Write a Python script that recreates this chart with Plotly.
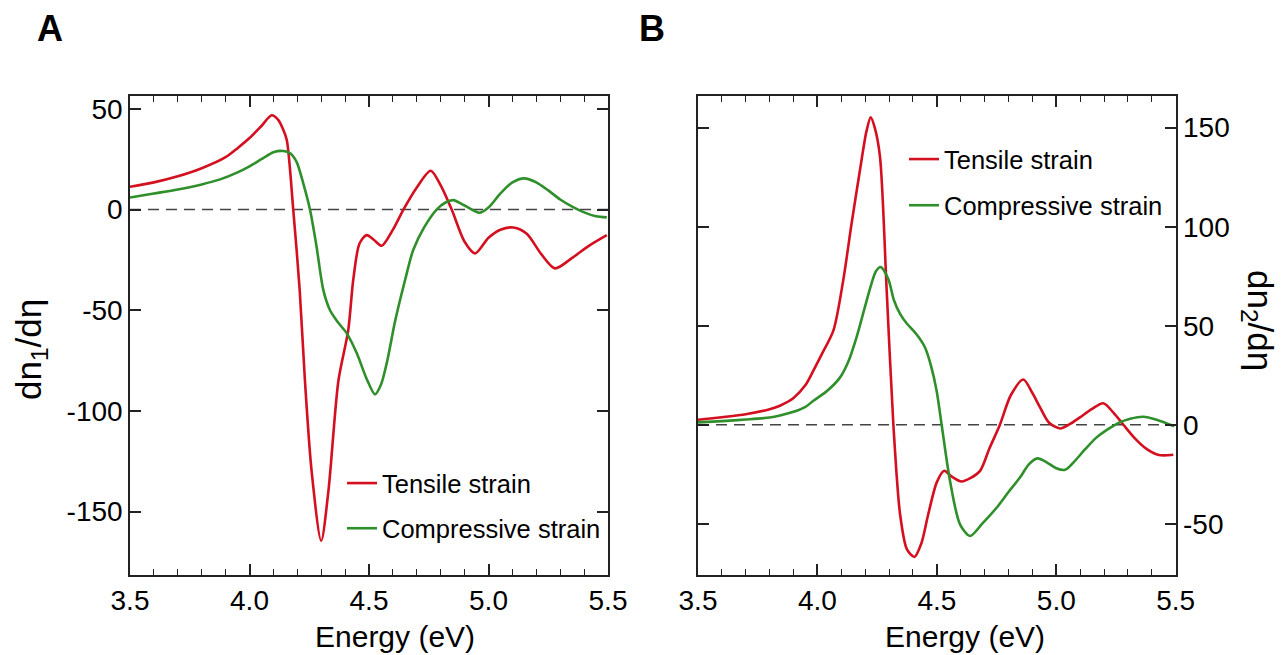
import plotly.graph_objects as go

# ---- Panel A: dn1/dη ----
e_tens_A = [3.50, 3.60, 3.70, 3.80, 3.90, 3.95, 4.00, 4.05, 4.093, 4.12, 4.14, 4.156, 4.183, 4.21, 4.232, 4.26, 4.30,
            4.33, 4.372, 4.413, 4.434, 4.46, 4.49, 4.52, 4.553, 4.60, 4.644, 4.70, 4.758, 4.80, 4.846, 4.90,
            4.944, 5.00, 5.05, 5.104, 5.16, 5.22, 5.278, 5.35, 5.42, 5.495]
tens_A = [11.3, 13.5, 16.5, 20.5, 26, 30.5, 35.5, 41.5, 46.8, 44.5, 40, 34.5, 0, -40, -85, -130, -164.5,
          -140, -85, -60, -35, -17, -12.7, -15, -18, -10, 0, 11, 19.3, 12, 0, -16,
          -21.8, -14, -10, -8.9, -12, -22, -29.2, -24, -18, -12.7]

e_comp_A = [3.50, 3.60, 3.70, 3.80, 3.877, 3.95, 4.00, 4.05, 4.10, 4.142, 4.17, 4.197, 4.225, 4.253, 4.28,
            4.309, 4.337, 4.37, 4.407, 4.449, 4.49, 4.525, 4.55, 4.574, 4.61, 4.651, 4.685, 4.73, 4.783,
            4.82, 4.853, 4.90, 4.962, 5.00, 5.05, 5.10, 5.149, 5.20, 5.25, 5.30, 5.35, 5.411, 5.45, 5.495]
comp_A = [6, 8, 10, 12.5, 15, 18.5, 21.5, 25, 28.5, 29.1, 28, 23.7, 13, 0, -18,
          -40, -50, -56, -61.5, -71.4, -84, -91.8, -87, -76.4, -55, -35, -20.1, -9, 0,
          3.5, 4.7, 2, -1.6, 1, 8, 13.5, 15.5, 13.5, 9.5, 5, 1.5, -1.9, -3.3, -3.9]

# ---- Panel B: dn2/dη ----
e_tens_B = [3.50, 3.60, 3.70, 3.80, 3.843, 3.90, 3.95, 3.983, 4.02, 4.067, 4.108, 4.143, 4.18, 4.205, 4.223, 4.24, 4.262,
            4.29, 4.318, 4.346, 4.375, 4.406, 4.435, 4.464, 4.50, 4.531, 4.56, 4.604, 4.64, 4.681, 4.72,
            4.764, 4.81, 4.862, 4.90, 4.932, 4.97, 5.016, 5.06, 5.099, 5.15, 5.197, 5.24, 5.281, 5.33,
            5.379, 5.43, 5.49]
tens_B = [2.5, 3.8, 5.3, 7.8, 9.6, 13.5, 20, 27.3, 36, 47.6, 72.9, 101.6, 130, 148, 155.2, 150, 135.3,
          67.8, 0, -45.2, -63, -66.8, -60, -45.2, -29, -23.3, -26, -28.7, -27, -23.3, -12,
          0, 15, 22.8, 16, 8.8, 1, -1.9, 0.5, 3.7, 8, 10.8, 6, 0, -7,
          -12.3, -15.3, -15.2]

e_comp_B = [3.50, 3.60, 3.70, 3.80, 3.843, 3.90, 3.95, 3.983, 4.04, 4.095, 4.13, 4.164, 4.20, 4.227, 4.245, 4.265,
            4.297, 4.32, 4.346, 4.375, 4.401, 4.425, 4.45, 4.475, 4.499, 4.52, 4.555, 4.597, 4.639, 4.69,
            4.751, 4.80, 4.848, 4.885, 4.921, 4.96, 5.00, 5.037, 5.08, 5.12, 5.169, 5.22, 5.266, 5.31,
            5.364, 5.42, 5.494]
comp_B = [1.2, 1.8, 2.6, 3.6, 4.6, 6.5, 9, 12.1, 17, 23.9, 32, 44.2, 60, 71.5, 77.5, 79.6,
          73.5, 63, 56, 51, 47.6, 44, 39.1, 30, 17.2, 0, -28.3, -50.3, -56.2, -50,
          -41.8, -34, -26.7, -20, -17, -19, -22, -22.8, -18, -12.5, -6.4, -2, 1.2, 3,
          4, 2.5, -0.8]

x_ticks = [3.5, 4.0, 4.5, 5.0, 5.5]
x_ticktext = ["3.5", "4.0", "4.5", "5.0", "5.5"]
yA_ticks = [50, 0, -50, -100, -150]
yA_ticktext = ["50", "0", "-50", "-100", "-150"]
yB_ticks = [150, 100, 50, 0, -50]
yB_ticktext = ["150", "100", "50", "0", "-50"]

RED = "#d40f1f"
GREEN = "#2f8f2a"
FONT = "Liberation Sans, Arial, sans-serif"
W, H = 1283, 655
OFF = 8  # page body margin


def px(xp):
    return (xp - OFF) / W


def py(yp):
    return 1 - (yp - OFF) / H


fig = go.Figure()
fig.add_trace(go.Scatter(x=e_tens_A, y=tens_A, mode="lines", name="Tensile strain",
                         line=dict(color=RED, width=2.6, shape="spline", smoothing=0.8),
                         xaxis="x", yaxis="y", legend="legend", legendgroup="a1"))
fig.add_trace(go.Scatter(x=e_comp_A, y=comp_A, mode="lines", name="Compressive strain",
                         line=dict(color=GREEN, width=2.6, shape="spline", smoothing=0.8),
                         xaxis="x", yaxis="y", legend="legend", legendgroup="a2"))
fig.add_trace(go.Scatter(x=e_tens_B, y=tens_B, mode="lines", name="Tensile strain",
                         line=dict(color=RED, width=2.6, shape="spline", smoothing=0.8),
                         xaxis="x2", yaxis="y2", legend="legend2", legendgroup="b1"))
fig.add_trace(go.Scatter(x=e_comp_B, y=comp_B, mode="lines", name="Compressive strain",
                         line=dict(color=GREEN, width=2.6, shape="spline", smoothing=0.8),
                         xaxis="x2", yaxis="y2", legend="legend2", legendgroup="b2"))

ydom = [py(575), py(96)]
axis_common = dict(showline=True, linecolor="#222", linewidth=1.5, mirror="ticks", automargin=False,
                   ticks="inside", tickcolor="#222", tickwidth=1.5, showgrid=False, zeroline=False,
                   tickfont=dict(family=FONT, size=28, color="#000"))
xcommon = dict(axis_common, range=[3.5, 5.5], tickvals=x_ticks, ticktext=x_ticktext, ticklen=11,
               minor=dict(ticks="inside", dtick=0.1, tick0=3.5, ticklen=6, tickcolor="#222", tickwidth=1.2))

fig.update_layout(
    width=W, height=H, margin=dict(l=0, r=0, t=0, b=0, autoexpand=False),
    paper_bgcolor="white", plot_bgcolor="white", showlegend=True,
    font=dict(family=FONT, color="#000"),
    xaxis=dict(xcommon, domain=[px(130), px(608)], anchor="y"),
    yaxis=dict(axis_common, domain=ydom, range=[-181.5, 56.4], tickvals=yA_ticks,
               ticktext=yA_ticktext, ticklen=11, anchor="x"),
    xaxis2=dict(xcommon, domain=[px(698), px(1175.7)], anchor="y2"),
    yaxis2=dict(axis_common, domain=ydom, range=[-75.9, 166], tickvals=yB_ticks,
                ticktext=yB_ticktext, ticklen=11, anchor="x2", side="right"),
    legend=dict(x=px(342), y=py(460), xanchor="left", yanchor="top", bgcolor="rgba(0,0,0,0)",
                font=dict(family=FONT, size=25.5, color="#000"), traceorder="grouped", tracegroupgap=9),
    legend2=dict(x=px(904), y=py(136), xanchor="left", yanchor="top", bgcolor="rgba(0,0,0,0)",
                 font=dict(family=FONT, size=25.5, color="#000"), traceorder="grouped", tracegroupgap=10),
)

# dashed zero lines
for xr, yr in (("x", "y"), ("x2", "y2")):
    fig.add_shape(type="line", xref=xr, yref=yr, x0=3.5, x1=5.5, y0=0, y1=0,
                  line=dict(color="#444", width=1.4, dash="11px,7px"), layer="below")

annos = [
    dict(text="<b>A</b>", x=px(50), y=py(28), font=dict(size=36)),
    dict(text="<b>B</b>", x=px(652), y=py(28), font=dict(size=36)),
    dict(text="Energy (eV)", x=px(395), y=py(636), font=dict(size=30)),
    dict(text="Energy (eV)", x=px(965), y=py(636), font=dict(size=30)),
    dict(text="dn<sub>1</sub>/dη", x=px(31), y=py(350), font=dict(size=35), textangle=-90),
    dict(text="dn<sub>2</sub>/dη", x=px(1258), y=py(320), font=dict(size=35), textangle=90),
]
for a in annos:
    f = dict(family=FONT, color="#000")
    f.update(a.pop("font"))
    fig.add_annotation(xref="paper", yref="paper", xanchor="center", yanchor="middle",
                       showarrow=False, font=f, **a)

fig.write_html("out.html")
